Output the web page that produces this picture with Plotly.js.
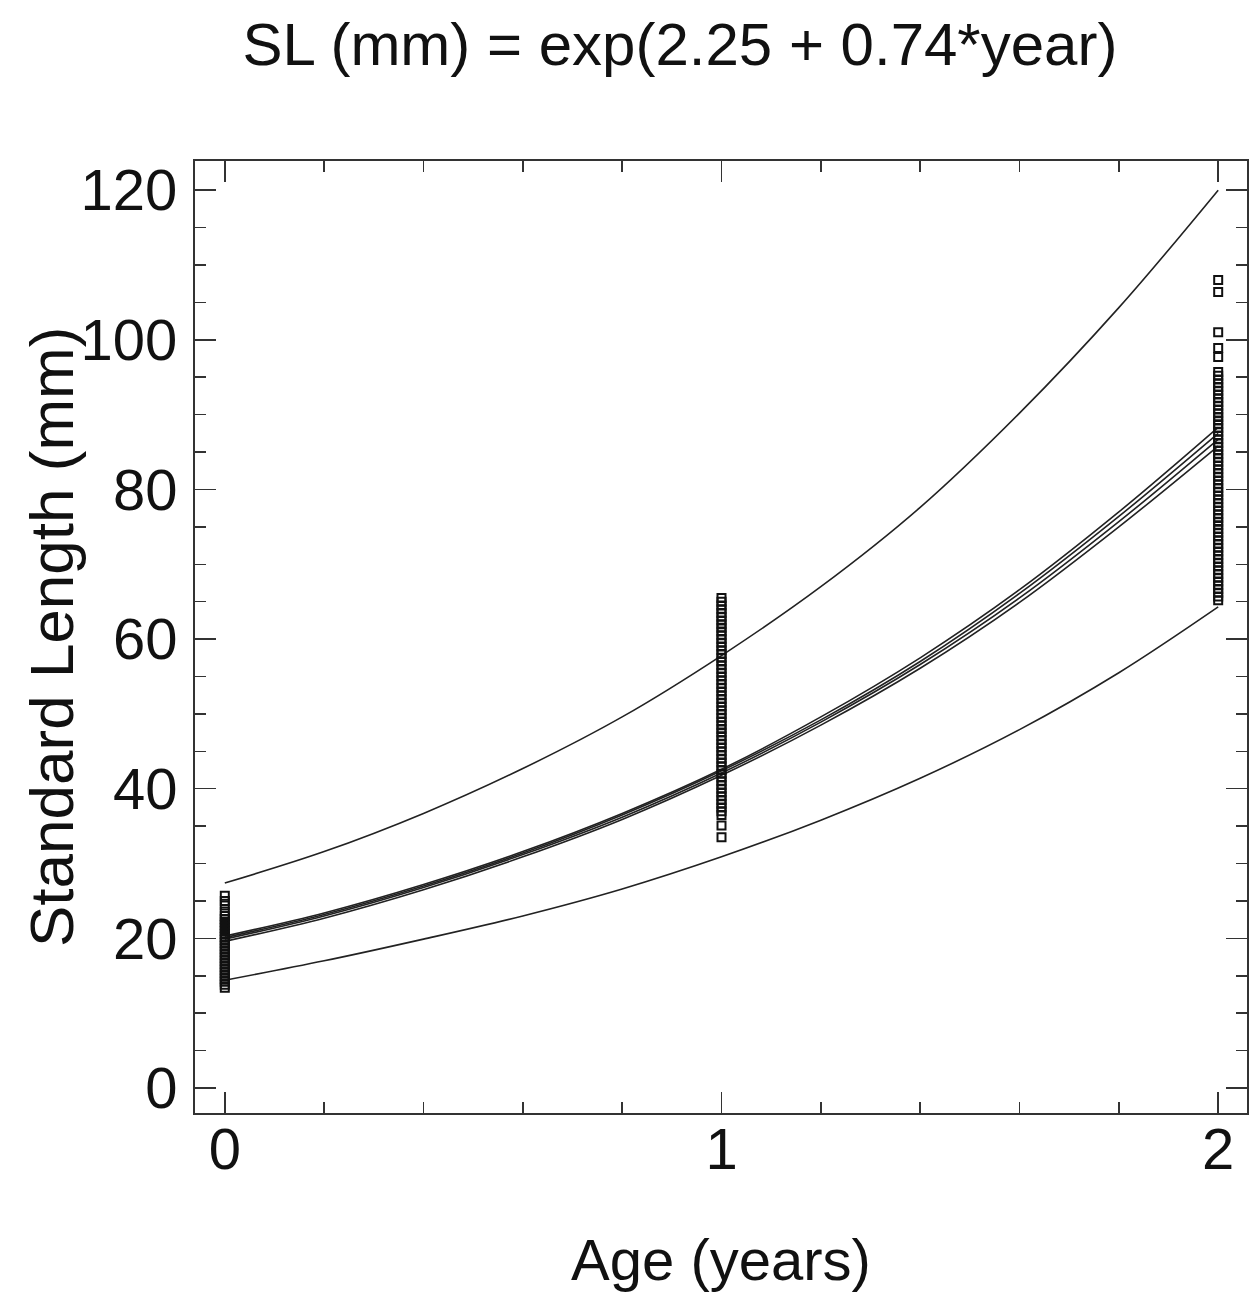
<!DOCTYPE html>
<html>
<head>
<meta charset="utf-8">
<script src="https://cdn.plot.ly/plotly-3.0.1.min.js"></script>
<style>html,body{margin:0;padding:0;background:#fff;}#chart{width:1250px;height:1299px;}</style>
</head>
<body>
<div id="chart"></div>
<script>
// Curve sample ages
const curveAge = [0, 0.2, 0.4, 0.6, 0.8, 1.0, 1.2, 1.4, 1.6, 1.8, 2.0];
// Upper bound curve
const upperSL = [27.4, 31.6, 36.7, 42.7, 49.6, 57.8, 67.0, 77.6, 90.2, 104.3, 120.0];
// Four nearly overlapping fitted curves
const fitA = [20.3, 23.4, 27.2, 31.6, 36.7, 42.6, 49.6, 57.5, 66.6, 77.0, 88.3];
const fitB = [20.1, 23.2, 27.0, 31.4, 36.5, 42.4, 49.2, 57.0, 66.1, 76.4, 87.5];
const fitC = [19.9, 23.0, 26.8, 31.2, 36.2, 42.1, 48.9, 56.6, 65.5, 75.7, 86.7];
const fitD = [19.6, 22.7, 26.5, 30.9, 35.9, 41.8, 48.5, 56.1, 64.9, 75.0, 85.8];
// Lower bound curve
const lowerSL = [14.4, 17.0, 19.9, 23.0, 26.6, 30.9, 35.8, 41.4, 47.9, 55.5, 64.3];

// Observed standard lengths by age
const slAge0 = [13.4,13.8,14.2,14.6,15.0,15.4,15.8,16.2,16.6,17.0,17.4,17.8,18.2,18.6,19.0,19.4,19.8,20.2,20.6,21.0,21.4,21.8,22.2,22.6,23.0,23.6,24.4,25.0,25.7];
const slAge1 = [33.5,35.1,36.5,37.0,37.5,38.0,38.5,39.0,39.5,40.0,40.5,41.0,41.5,42.0,42.5,43.0,43.5,44.0,44.5,45.0,45.5,46.0,46.5,47.0,47.5,48.0,48.5,49.0,49.5,50.0,50.5,51.0,51.5,52.0,52.5,53.0,53.5,54.0,54.5,55.0,55.5,56.0,56.5,57.0,57.5,58.0,58.5,59.0,59.5,60.0,60.5,61.0,61.5,62.0,62.5,63.0,63.5,64.0,64.5,65.0,65.5];
const slAge2 = [65.2,65.7,66.2,66.7,67.2,67.7,68.2,68.7,69.2,69.7,70.2,70.7,71.2,71.7,72.2,72.7,73.2,73.7,74.2,74.7,75.2,75.7,76.2,76.7,77.2,77.7,78.2,78.7,79.2,79.7,80.2,80.7,81.2,81.7,82.2,82.7,83.2,83.7,84.2,84.7,85.2,85.7,86.2,86.7,87.2,87.7,88.2,88.7,89.2,89.7,90.2,90.7,91.2,91.7,92.2,92.7,93.2,93.7,94.2,94.7,95.2,95.7,97.7,98.9,101.0,106.4,108.0];

const xTickVals = [0, 1, 2];
const yTickVals = [0, 20, 40, 60, 80, 100, 120];

function lineTrace(y) {
  return {x: curveAge, y: y, mode: 'lines', type: 'scatter',
    line: {color: '#222', width: 1.6, shape: 'spline'}, hoverinfo: 'skip'};
}
function pts(age, vals) {
  return {x: vals.map(() => age), y: vals, mode: 'markers', type: 'scatter',
    marker: {symbol: 'square-open', size: 8, color: '#111', line: {width: 2, color: '#111'}}};
}

const data = [
  lineTrace(upperSL), lineTrace(fitA), lineTrace(fitB), lineTrace(fitC), lineTrace(fitD), lineTrace(lowerSL),
  pts(0, slAge0), pts(1, slAge1), pts(2, slAge2)
];

const fontFam = 'Arial, "Liberation Sans", sans-serif';
const layout = {
  width: 1250, height: 1299,
  paper_bgcolor: '#fff', plot_bgcolor: '#fff',
  showlegend: false,
  margin: {l: 195, r: 3, t: 161, b: 186},
  font: {family: fontFam, color: '#111'},
  title: {text: 'SL (mm) = exp(2.25 + 0.74*year)', font: {size: 60, family: fontFam, color: '#111'},
    xref: 'container', x: 0.544, xanchor: 'center', yref: 'container', y: 0.966, yanchor: 'middle'},
  xaxis: {
    range: [-0.06, 2.058], tickvals: xTickVals, ticktext: xTickVals.map(String),
    ticks: 'inside', ticklen: 21, tickwidth: 1.5, tickcolor: '#333',
    showline: true, linecolor: '#333', linewidth: 2, mirror: 'ticks',
    showgrid: false, zeroline: false,
    tickfont: {size: 58, family: fontFam, color: '#111'},
    ticklabelstandoff: -16,
    minor: {dtick: 0.2, tick0: 0, ticks: 'inside', ticklen: 11, tickwidth: 1.5, tickcolor: '#333', showgrid: false},
    title: {text: 'Age (years)', font: {size: 58, family: fontFam, color: '#111'}, standoff: 60}
  },
  yaxis: {
    range: [-3.34, 123.9], tickvals: yTickVals, ticktext: yTickVals.map(String),
    ticks: 'inside', ticklen: 21, tickwidth: 1.5, tickcolor: '#333',
    showline: true, linecolor: '#333', linewidth: 2, mirror: 'ticks',
    showgrid: false, zeroline: false,
    tickfont: {size: 58, family: fontFam, color: '#111'},
    ticklabelstandoff: 4,
    minor: {dtick: 5, tick0: 0, ticks: 'inside', ticklen: 11, tickwidth: 1.5, tickcolor: '#333', showgrid: false}
  },
  annotations: [{
    text: 'Standard Length (mm)', textangle: -90, showarrow: false,
    xref: 'paper', yref: 'paper', x: -0.1369, y: 0.5, xanchor: 'center', yanchor: 'middle',
    font: {size: 62, family: fontFam, color: '#111'}
  }]
};

Plotly.newPlot('chart', data, layout, {displayModeBar: false, staticPlot: true});
</script>
</body>
</html>
